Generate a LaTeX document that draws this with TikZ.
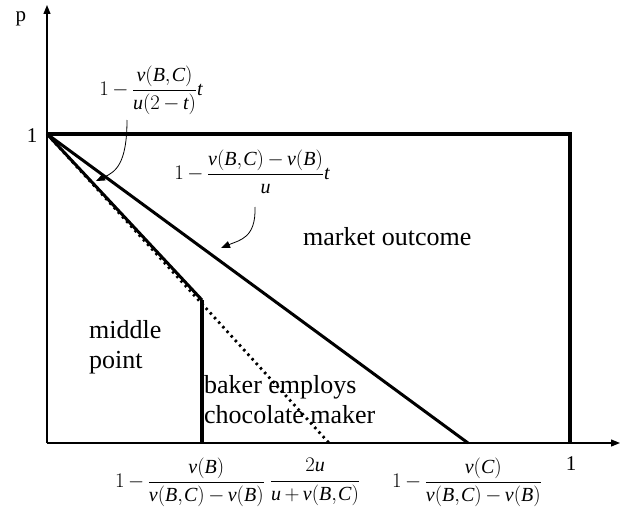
\documentclass[tikz,border=0pt]{standalone}
\usepackage{fontspec}
\setmainfont{Liberation Serif}
\usetikzlibrary{arrows.meta}
\newcommand\mi[1]{\textit{#1}}
\newcommand\fm[1]{$\medmuskip=3mu\relax\thinmuskip=1mu\relax\displaystyle #1$}
\tikzset{
  lbl/.style={inner sep=0pt, font=\fontsize{26}{30}\selectfont, align=left},
  num/.style={inner sep=0pt, font=\fontsize{21}{24}\selectfont},
  frm/.style={inner sep=0pt, font=\fontsize{20}{24}\selectfont},
  axis/.style={line width=1.2pt, -{Triangle[length=9pt,width=7pt]}},
  thick4/.style={line width=4pt},
  thick3/.style={line width=3pt},
  dotline/.style={line width=2.8pt, dash pattern=on 2.4pt off 3.8pt},
  callout/.style={line width=0.8pt, -{Triangle[length=9pt,width=7pt]}}
}
\begin{document}
\begin{tikzpicture}[x=1pt,y=-1pt]
\useasboundingbox (0,0) rectangle (644,511);
% key points
\coordinate (O) at (47,443);
\coordinate (Ytop) at (47,5);
\coordinate (Xend) at (620,443);
\coordinate (P1) at (47,134);
\coordinate (TR) at (570,134);
\coordinate (BR) at (570,443);
\coordinate (M) at (468,443);
\coordinate (K) at (202,300);
\coordinate (Kb) at (202,443);
\coordinate (D) at (329,443);
% axes
\draw[axis] (O) -- (Ytop);
\draw[axis] (O) -- (Xend);
% outcome lines
\draw[thick4, line cap=butt] (P1) -- (TR) -- (BR);
\draw[thick3] (P1) -- (M);
\draw[dotline] (P1) -- (D);
\draw[thick3] (P1) -- (K);
\draw[thick4] (K) -- (Kb);
% axis labels
\node[num, anchor=base] (plab) at (21,22) {p};
\node[num, anchor=base] (one) at (32,142) {1};
\node[num, anchor=base] (onex) at (571,470) {1};
% region labels
\node[lbl, anchor=base west] (mo) at (303,245) {market outcome};
\node[lbl, anchor=base west] (mp) at (89,368) {middle\\point};
\node[lbl, anchor=base west] (bk) at (204,423) {baker employs\\chocolate maker};
% formulas
\node[frm] (f1) at (151,90) {\fm{1-\frac{\mi{v}(\mi{B},\mi{C})}{\mi{u}(2-\mi{t})}\mi{t}}};
\node[frm] (f2) at (252,172) {\fm{1-\frac{\mi{v}(\mi{B},\mi{C})-\mi{v}(\mi{B})}{\mi{u}}\mi{t}}};
\node[frm] (f3) at (190,482) {\fm{1-\frac{\mi{v}(\mi{B})}{\mi{v}(\mi{B},\mi{C})-\mi{v}(\mi{B})}}};
\node[frm] (f4) at (315,482) {\fm{\frac{2\mi{u}}{\mi{u}+\mi{v}(\mi{B},\mi{C})}}};
\node[frm] (f5) at (467,482) {\fm{1-\frac{\mi{v}(\mi{C})}{\mi{v}(\mi{B},\mi{C})-\mi{v}(\mi{B})}}};
% callout arrows
\coordinate (a1s) at (127,120);
\coordinate (a1e) at (96,181);
\coordinate (a2s) at (255,207);
\coordinate (a2e) at (221,248);
\draw[callout] (a1s) .. controls (127,165) and (115,172) .. (a1e);
\draw[callout] (a2s) .. controls (256,238) and (240,240) .. (a2e);
\end{tikzpicture}
\end{document}
